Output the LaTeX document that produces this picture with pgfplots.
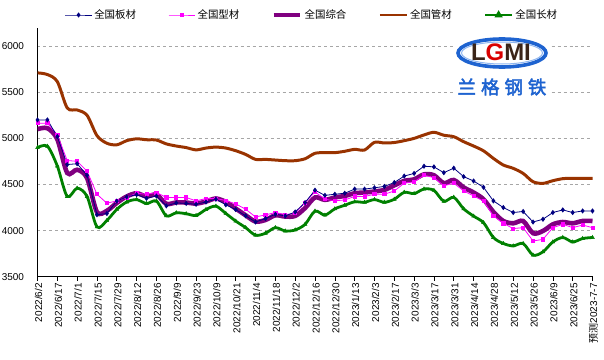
\documentclass[border=0pt]{standalone}
\usepackage{pgfplots}
\pgfplotsset{compat=1.18}
\usepackage{pgfplotstable}
\usepackage{fontspec}
\setmainfont{Liberation Sans}
\newfontfamily\cjk{Noto Sans CJK SC}
\newfontfamily\cjkb[FakeBold=2.5]{Noto Sans CJK SC}
\definecolor{cban}{HTML}{000080}
\definecolor{cxing}{HTML}{FF00FF}
\definecolor{czong}{HTML}{800080}
\definecolor{cguan}{HTML}{993300}
\definecolor{cchang}{HTML}{008000}
\definecolor{logoblue}{HTML}{1E63D0}
\definecolor{logolight}{HTML}{8FB6F0}
\definecolor{logodark}{HTML}{3A2418}

\pgfplotstableread{
i ban xing zong guan chang
0 5200 5165 5100 5710 4900
1 5200 5165 5110 5692 4915
2 5020 5035 4990 5615 4700
3 4716 4760 4625 5330 4370
4 4725 4751 4660 5308 4460
5 4600 4645 4570 5250 4370
6 4172 4394 4200 5030 4040
7 4185 4297 4215 4947 4110
8 4320 4322 4300 4930 4230
9 4365 4358 4370 4975 4310
10 4390 4405 4405 4995 4336
11 4350 4394 4370 4985 4293
12 4375 4413 4390 4982 4320
13 4268 4359 4290 4940 4160
14 4300 4359 4305 4917 4193
15 4295 4359 4304 4900 4183
16 4285 4322 4293 4875 4164
17 4310 4348 4315 4895 4229
18 4340 4348 4348 4905 4265
19 4280 4326 4311 4895 4186
20 4228 4289 4239 4866 4103
21 4160 4232 4166 4826 4032
22 4093 4148 4098 4772 3950
23 4130 4170 4115 4772 3971
24 4177 4196 4166 4765 4032
25 4159 4174 4152 4758 3996
26 4202 4188 4159 4758 4007
27 4304 4304 4245 4779 4068
28 4438 4420 4359 4838 4211
29 4382 4340 4333 4845 4168
30 4394 4322 4359 4845 4236
31 4405 4333 4376 4860 4275
32 4450 4370 4405 4881 4312
33 4450 4370 4413 4874 4307
34 4464 4394 4424 4957 4336
35 4479 4394 4441 4950 4307
36 4521 4430 4490 4955 4340
37 4591 4514 4539 4975 4415
38 4620 4528 4556 5000 4401
39 4698 4600 4610 5037 4451
40 4691 4574 4600 5066 4436
41 4628 4486 4514 5034 4318
42 4677 4514 4549 5018 4361
43 4585 4430 4468 4964 4236
44 4538 4376 4413 4917 4157
45 4470 4320 4340 4865 4086
46 4322 4159 4202 4783 3925
47 4250 4079 4104 4711 3860
48 4196 4022 4079 4675 3834
49 4207 4032 4104 4620 3860
50 4093 3887 3971 4530 3734
51 4123 3905 3996 4512 3770
52 4196 4032 4068 4541 3877
53 4224 4068 4093 4563 3925
54 4196 4032 4079 4567 3877
55 4213 4060 4104 4567 3914
56 4213 4032 4104 4567 3925
}\datatable

\begin{document}
\begin{tikzpicture}[x=1bp,y=1bp]
\path[use as bounding box] (0,0) rectangle (604,359);
\begin{axis}[
  at={(37.5bp,82.3bp)}, anchor=south west,
  scale only axis, width=555bp, height=249bp,
  xmin=0, xmax=56, ymin=3500, ymax=6200,
  ytick={3500,4000,...,6000},
  xtick={0,2,...,56},
  xticklabels={2022/6/2,2022/6/17,2022/7/1,2022/7/15,2022/7/29,2022/8/12,2022/8/26,2022/9/9,2022/9/23,2022/10/9,2022/10/21,2022/11/4,2022/11/18,2022/12/2,2022/12/16,2022/12/30,2023/1/13,2023/2/3,2023/2/17,2023/3/3,2023/3/17,2023/3/31,2023/4/14,2023/4/28,2023/5/12,2023/5/26,2023/6/9,2023/6/25,{{\cjk 预测}2023-7-7}},
  axis x line=bottom, axis y line=left,
  axis line style={-, black, line width=0.8pt},
  tick align=outside,
  major tick length=4bp,
  x tick style={black, line width=0.6pt},
  y tick style={draw=none},
  ymajorgrids,
  grid style={dashed, gray!70, line width=0.5pt},
  /pgf/number format/assume math mode=true,
  /pgf/number format/1000 sep={},
  yticklabel style={font=\fontsize{10}{12}\selectfont, xshift=-6bp},
  xticklabel style={font=\fontsize{10}{12}\selectfont, rotate=90, anchor=east, xshift=1bp, yshift=-1bp},
  legend columns=5,
  legend cell align=left,
  legend style={draw=none, fill=none, at={(0.4946,1.051)}, anchor=center,
    font=\cjk\fontsize{10.5}{12}\selectfont,
    /tikz/every even column/.append style={column sep=30bp}},
  legend image code/.code={\draw[mark repeat=2,mark phase=2,#1] plot coordinates {(0cm,0cm) (0.47cm,0cm) (0.94cm,0cm)};},
]
\addplot[czong, line width=4.6pt, smooth, no markers, forget plot] table[x=i,y=zong]{\datatable};
\addplot[cguan, line width=3pt, smooth, no markers, forget plot] table[x=i,y=guan]{\datatable};
\addplot[cchang, line width=2.8pt, smooth, mark=triangle*, mark size=2.2pt, mark options={line width=0.4pt}, forget plot] table[x=i,y=chang]{\datatable};
\addplot[cxing, line width=0.8pt, mark=square*, mark size=1.6pt, forget plot] table[x=i,y=xing]{\datatable};
\addplot[cban, line width=0.8pt, mark=diamond*, mark size=2pt, forget plot] table[x=i,y=ban]{\datatable};

\addlegendimage{cban, line width=0.8pt, mark=diamond*, mark size=2pt}
\addlegendentry{全国板材}
\addlegendimage{cxing, line width=0.8pt, mark=square*, mark size=1.6pt}
\addlegendentry{全国型材}
\addlegendimage{czong, line width=4.6pt, no markers}
\addlegendentry{全国综合}
\addlegendimage{cguan, line width=3pt, no markers}
\addlegendentry{全国管材}
\addlegendimage{cchang, line width=2.8pt, mark=triangle*, mark size=2pt}
\addlegendentry{全国长材}
\end{axis}
% logo
\fill[white] (454,259) rectangle (550,326);
\draw[logoblue, line width=3.6bp] (502,306) ellipse [x radius=44, y radius=14];
\draw[logolight, line width=1bp] (502,306) ellipse [x radius=40.5, y radius=11];
\node[text=logodark, inner sep=0pt] at (501,306.5) {\fontsize{24}{24}\selectfont\bfseries L{\color{red!85!black}G}MI};
\node[text=logoblue, inner sep=0pt] at (502,272) {\cjkb\fontsize{18.5}{18.5}\selectfont 兰\hspace{5bp}格\hspace{5bp}钢\hspace{5bp}铁};
\end{tikzpicture}
\end{document}
